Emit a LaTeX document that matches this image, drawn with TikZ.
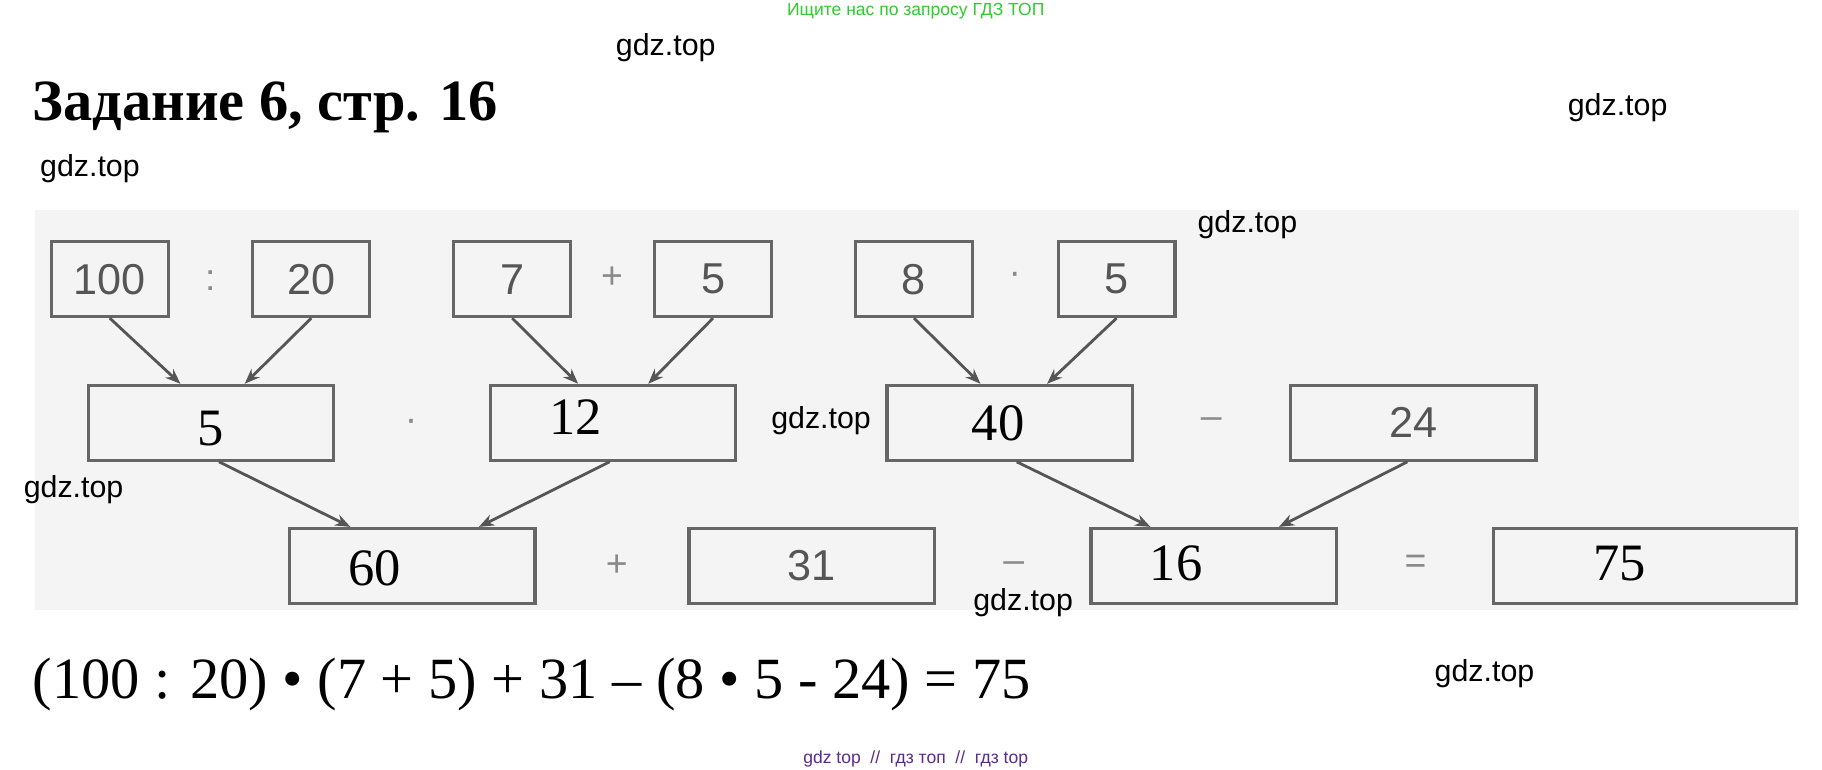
\documentclass[tikz,border=0pt]{standalone}
\usepackage{fontspec}
\setmainfont{Liberation Serif}
\setsansfont{Liberation Sans}
\usetikzlibrary{arrows.meta}
\definecolor{boxgray}{HTML}{666666}
\definecolor{numgray}{HTML}{555555}
\definecolor{opgray}{HTML}{8A8A8A}
\definecolor{wmgreen}{HTML}{2FCB2F}
\definecolor{wmpurple}{HTML}{5B2A8E}
\definecolor{scanbg}{HTML}{F4F4F4}
\tikzset{
  sbox/.style={draw=boxgray, line width=2.8pt, minimum width=100pt, minimum height=64pt, inner sep=0pt,
    font=\sffamily\fontsize{37}{37}\selectfont, text=numgray},
  wbox/.style={sbox, minimum width=210pt},
  ans/.style={font=\rmfamily\fontsize{45}{45}\selectfont, text=black},
  op/.style={inner sep=0pt, font=\sffamily\fontsize{32}{32}\selectfont, text=opgray},
  arr/.style={draw=numgray, line width=2.4pt, -{Stealth[length=13pt,width=10pt]}},
  wm/.style={inner sep=0pt, font=\sffamily\fontsize{26}{26}\selectfont, text=black},
}
\begin{document}
\begin{tikzpicture}[x=1pt,y=-1pt]
\useasboundingbox (0,0) rectangle (1560,659);
\fill[white] (0,0) rectangle (1560,659);
\fill[scanbg] (30,180) rectangle (1540,522);

% top watermark and title
\node[inner sep=0pt, font=\sffamily\fontsize{15}{15}\selectfont, text=wmgreen] (wtop) at (784,10) {Ищите нас по запросу ГДЗ ТОП};
\node[inner sep=0pt, anchor=base west, font=\rmfamily\bfseries\fontsize{50}{50}\selectfont] (title) at (28,103) {Задание 6, стр. 16};

% top row
\node[sbox] (b100) at (94,239) {100};
\node[sbox] (b20) at (266.5,239) {20};
\node[sbox] (b7) at (438.5,239) {7};
\node[sbox] (b5a) at (610.5,239) {5};
\node[sbox] (b8) at (782.5,239) {8};
\node[sbox] (b5b) at (956,239) {5};
\node[op] (o1) at (180,240) {:};
\node[op] (o2) at (524,238) {+};
\node[op] (o3) at (869,238) {·};

% middle row
\node[wbox] (m5) at (180.5,362) {};
\node[ans] at ([yshift=-5pt]m5.center) {5};
\node[wbox] (m12) at (525,362) {};
\node[ans] at ([xshift=-32pt,yshift=5pt]m12.center) {12};
\node[wbox] (m40) at (864.5,362) {};
\node[ans] at ([xshift=-10pt]m40.center) {40};
\node[wbox] (m24) at (1210,362) {24};
\node[op] (o4) at (352,364) {·};
\node[op] (o5) at (1037,362) {–};

% bottom row
\node[wbox] (r60) at (353,484.5) {};
\node[ans] at ([xshift=-32pt,yshift=-2pt]r60.center) {60};
\node[wbox] (r31) at (695,484.5) {31};
\node[wbox] (r16) at (1039,484.5) {};
\node[ans] at ([xshift=-32pt,yshift=2pt]r16.center) {16};
\node[wbox, minimum width=259pt] (r75) at (1408.5,484.5) {};
\node[ans] at ([xshift=-22pt,yshift=2pt]r75.center) {75};
\node[op] (o6) at (528,484) {+};
\node[op] (o7) at (868,486) {–};
\node[op] (o8) at (1212,483) {=};

% arrows
\draw[arr] (b100.south) -- ([xshift=-26pt]m5.north);
\draw[arr] (b20.south) -- ([xshift=29pt]m5.north);
\draw[arr] (b7.south) -- ([xshift=-30pt]m12.north);
\draw[arr] (b5a.south) -- ([xshift=30pt]m12.north);
\draw[arr] (b8.south) -- ([xshift=-25pt]m40.north);
\draw[arr] (b5b.south) -- ([xshift=32pt]m40.north);
\draw[arr] ([xshift=7pt]m5.south) -- ([xshift=-53pt]r60.north);
\draw[arr] ([xshift=-3pt]m12.south) -- ([xshift=57pt]r60.north);
\draw[arr] ([xshift=6pt]m40.south) -- ([xshift=-54pt]r16.north);
\draw[arr] ([xshift=-5pt]m24.south) -- ([xshift=56pt]r16.north);

% equation
\node[inner sep=0pt, anchor=base west, font=\rmfamily\fontsize{50}{50}\selectfont] (eq) at (28,598) {(100 : 20) • (7 + 5) + 31 – (8 • 5 - 24) = 75};

% watermarks
\node[wm] (g1) at (570,41) {gdz.top};
\node[wm] (g2) at (1385,92) {gdz.top};
\node[wm] (g3) at (77,144) {gdz.top};
\node[wm] (g4) at (1068,192) {gdz.top};
\node[wm] (g5) at (703,360) {gdz.top};
\node[wm] (g6) at (63,419) {gdz.top};
\node[wm] (g7) at (876,516) {gdz.top};
\node[wm] (g8) at (1271,577) {gdz.top};
\node[inner sep=0pt, font=\sffamily\fontsize{15}{15}\selectfont, text=wmpurple] (wbot) at (784,650) {gdz top\ \ //\ \ гдз топ\ \ //\ \ гдз top};
\end{tikzpicture}
\end{document}
